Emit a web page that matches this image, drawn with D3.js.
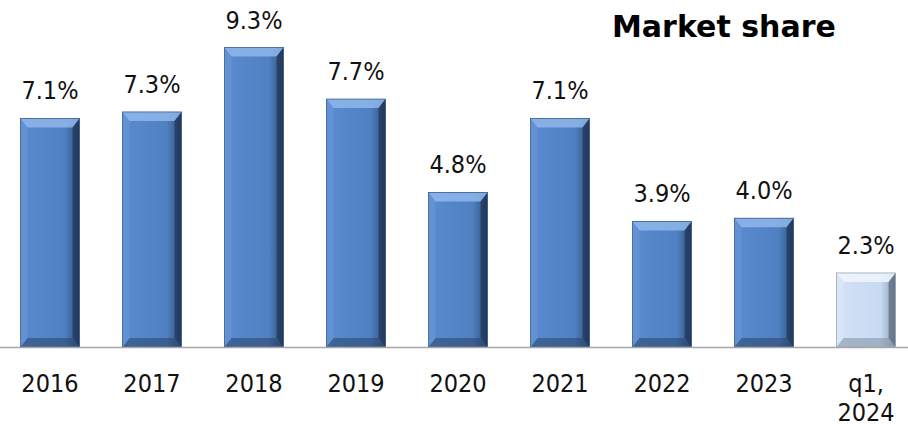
<!DOCTYPE html>
<html>
<head>
<script src="https://d3js.org/d3.v7.min.js"></script>
<style>
  body { margin: 0; background: #fff; }
  text { font-family: "DejaVu Sans Condensed", "DejaVu Sans", sans-serif; font-stretch: condensed; }
  text.title { font-family: "DejaVu Sans", sans-serif; font-stretch: normal; }
</style>
</head>
<body>
<svg width="908" height="429"></svg>
<script>
var years = ["2016", "2017", "2018", "2019", "2020", "2021", "2022", "2023", "q1, 2024"];
var shares = [7.1, 7.3, 9.3, 7.7, 4.8, 7.1, 3.9, 4.0, 2.3];
var labels = ["7.1%", "7.3%", "9.3%", "7.7%", "4.8%", "7.1%", "3.9%", "4.0%", "2.3%"];

var svg = d3.select("svg"),
    width = +svg.attr("width"),
    height = +svg.attr("height");

var baseY = 347;

var x = d3.scaleBand()
    .domain(years)
    .range([0, 916])
    .paddingInner(0.42)
    .paddingOuter(0.2);

var y = d3.scaleLinear()
    .domain([0, 10])
    .range([baseY, baseY - 322]);

var defs = svg.append("defs");

function gradient(id, c1, c2, c3) {
    var g = defs.append("linearGradient").attr("id", id)
        .attr("x1", "0").attr("x2", "1").attr("y1", "0").attr("y2", "0");
    g.append("stop").attr("offset", "0").attr("stop-color", c1);
    g.append("stop").attr("offset", "0.75").attr("stop-color", c2);
    g.append("stop").attr("offset", "1").attr("stop-color", c3);
}
gradient("blue", "#5a8bd0", "#4f80c2", "#2f4f7a");
gradient("light", "#d2e2f6", "#c8daf2", "#8a9cb4");

var bars = svg.append("g").selectAll("g")
    .data(years)
    .enter().append("g");

bars.each(function(d, i) {
    var g = d3.select(this);
    var x0 = x(d), w = x.bandwidth();
    var y0 = y(shares[i]), y1 = y(0);
    var last = i === years.length - 1;
    var b = 9, bs = 7;
    g.append("rect")
        .attr("x", x0).attr("y", y0)
        .attr("width", w).attr("height", y1 - y0)
        .attr("fill", last ? "url(#light)" : "url(#blue)");
    // top bevel
    g.append("polygon")
        .attr("points", [[x0, y0], [x0 + w, y0], [x0 + w - bs, y0 + b], [x0 + bs, y0 + b]].join(" "))
        .attr("fill", last ? "#eef5fd" : "#8fb7ea")
        .attr("opacity", 0.85);
    // right bevel
    g.append("polygon")
        .attr("points", [[x0 + w, y0], [x0 + w, y1], [x0 + w - bs, y1 - b], [x0 + w - bs, y0 + b]].join(" "))
        .attr("fill", last ? "#4d5a6a" : "#1a2c46")
        .attr("opacity", 0.6);
    // bottom bevel
    g.append("polygon")
        .attr("points", [[x0, y1], [x0 + w, y1], [x0 + w - bs, y1 - b], [x0 + bs, y1 - b]].join(" "))
        .attr("fill", last ? "#7f8fa4" : "#2a4468")
        .attr("opacity", 0.55);
    // left bevel
    g.append("polygon")
        .attr("points", [[x0, y0], [x0, y1], [x0 + bs, y1 - b], [x0 + bs, y0 + b]].join(" "))
        .attr("fill", last ? "#dfe9f6" : "#6a98d6")
        .attr("opacity", 0.6);
    g.append("rect")
        .attr("x", x0).attr("y", y0)
        .attr("width", w).attr("height", y1 - y0)
        .attr("fill", "none")
        .attr("stroke", last ? "#9aa8ba" : "#3a5f90")
        .attr("stroke-width", 0.8);
});

svg.append("g").selectAll("text")
    .data(years)
    .enter().append("text")
    .attr("x", function(d) { return x(d) + x.bandwidth() / 2; })
    .attr("y", function(d, i) { return y(shares[i]) - 19; })
    .attr("text-anchor", "middle")
    .attr("font-size", 25)
    .attr("fill", "#111")
    .text(function(d, i) { return labels[i]; });

// axis line
svg.append("line")
    .attr("x1", 0).attr("x2", width)
    .attr("y1", baseY + 0.5).attr("y2", baseY + 0.5)
    .attr("stroke", "#a6a6a6").attr("stroke-width", 1.5);

var xAxis = svg.append("g").selectAll("text")
    .data(years)
    .enter().append("text")
    .attr("x", function(d) { return x(d) + x.bandwidth() / 2; })
    .attr("y", 392)
    .attr("text-anchor", "middle")
    .attr("font-size", 25)
    .attr("fill", "#111");

xAxis.each(function(d) {
    var parts = d.split(" ");
    var t = d3.select(this);
    parts.forEach(function(p, k) {
        t.append("tspan")
            .attr("x", t.attr("x"))
            .attr("dy", k === 0 ? 0 : 29)
            .text(p);
    });
});

svg.append("text")
    .attr("class", "title")
    .attr("x", 612).attr("y", 37)
    .attr("font-size", 30)
    .attr("font-weight", "bold")
    .attr("fill", "#000")
    .text("Market share");
</script>
</body>
</html>
